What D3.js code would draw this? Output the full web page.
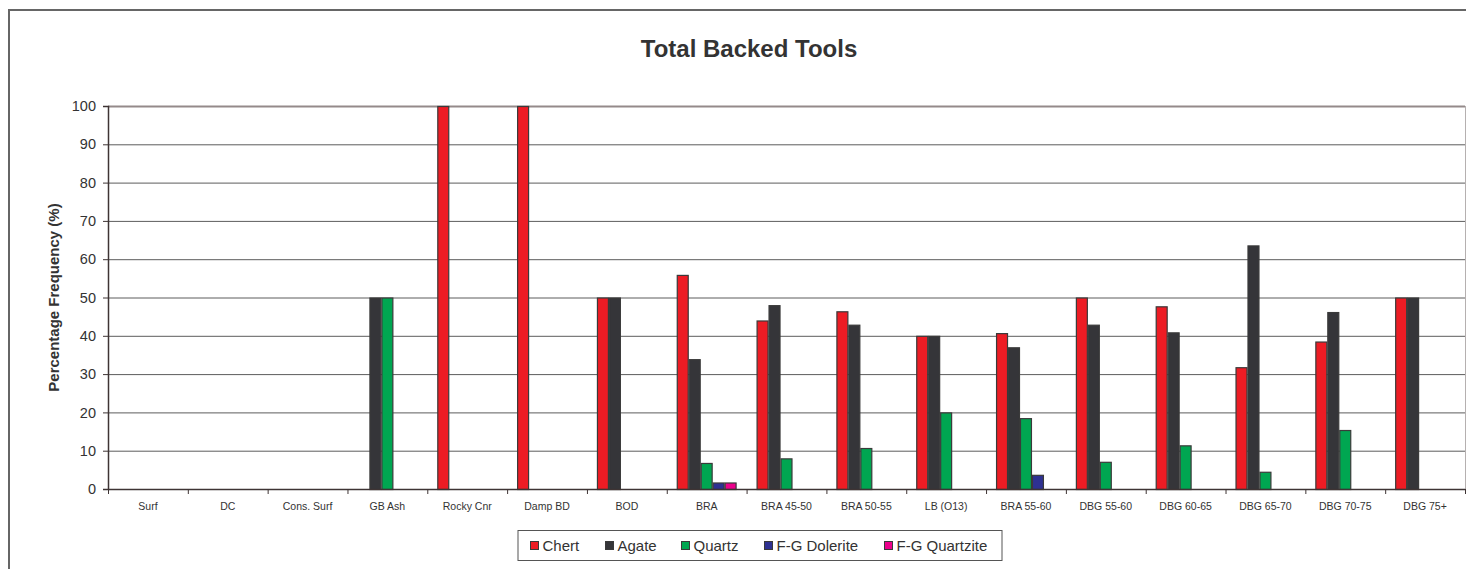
<!DOCTYPE html>
<html>
<head>
<meta charset="utf-8">
<script src="https://cdn.jsdelivr.net/npm/d3@7"></script>
<style>
  html, body { margin: 0; padding: 0; background: #fff; }
  svg { display: block; font-family: "Liberation Sans", Arial, Helvetica, sans-serif; }
</style>
</head>
<body>
<svg id="chart" width="1466" height="569"></svg>
<script>
const categories = ["Surf","DC","Cons. Surf","GB Ash","Rocky Cnr","Damp BD","BOD","BRA","BRA 45-50","BRA 50-55","LB (O13)","BRA 55-60","DBG 55-60","DBG 60-65","DBG 65-70","DBG 70-75","DBG 75+"];
const seriesNames = ["Chert","Agate","Quartz","F-G Dolerite","F-G Quartzite"];
const chert     = [0,0,0,0,100,100,50,55.9,44.0,46.4,40,40.7,50.0,47.7,31.8,38.5,50];
const agate     = [0,0,0,50,0,0,50,33.9,48.0,42.9,40,37.0,42.9,40.9,63.6,46.2,50];
const quartz    = [0,0,0,50,0,0,0,6.8,8.0,10.7,20,18.5,7.1,11.4,4.5,15.4,0];
const dolerite  = [0,0,0,0,0,0,0,1.7,0,0,0,3.7,0,0,0,0,0];
const quartzite = [0,0,0,0,0,0,0,1.7,0,0,0,0,0,0,0,0,0];
const yTicks = [0,10,20,30,40,50,60,70,80,90,100];
const colors = ["#ed1c24","#353539","#00a651","#2e3192","#ec008c"];

(function () {
const seriesValues = [chert, agate, quartz, dolerite, quartzite];
const svg = d3.select("#chart");

// outer frame
svg.append("rect").attr("x", 9).attr("y", 10).attr("width", 1480).attr("height", 600)
  .attr("fill", "none").attr("stroke", "#666").attr("stroke-width", 2);

const pL = 108, pR = 1465, pT = 106, pB = 489;

const x0 = d3.scaleBand().domain(categories).range([pL, pR]).paddingInner(0).paddingOuter(0);
const x1 = d3.scaleBand().domain(seriesNames).range([10, x0.bandwidth() - 10]).padding(0);
const y = d3.scaleLinear().domain([0, 100]).range([pB, pT]);

// title
svg.append("text").attr("x", 749).attr("y", 57).attr("text-anchor", "middle")
  .attr("font-size", 24).attr("font-weight", "bold").attr("fill", "#333")
  .text("Total Backed Tools");

// gridlines
svg.append("g").selectAll("line").data(yTicks.filter(d => d > 0)).join("line")
  .attr("x1", pL).attr("x2", pR)
  .attr("y1", d => y(d) + 0.5).attr("y2", d => y(d) + 0.5)
  .attr("stroke", d => d === 100 ? "#948a8a" : "#5c5c5c")
  .attr("stroke-width", d => d === 100 ? 2 : 1);

// right border of plot
svg.append("line").attr("x1", pR + 0.5).attr("x2", pR + 0.5).attr("y1", pT).attr("y2", pB)
  .attr("stroke", "#b5b0b0").attr("stroke-width", 1);

// bars
const groups = svg.append("g").selectAll("g").data(categories).join("g")
  .attr("transform", d => `translate(${x0(d)},0)`);
groups.selectAll("rect")
  .data((c, ci) => seriesNames.map((s, si) => ({ s, si, v: seriesValues[si][ci] })).filter(d => d.v > 0))
  .join("rect")
  .attr("x", d => x1(d.s) + 0.5)
  .attr("width", x1.bandwidth() - 1)
  .attr("y", d => y(d.v) + 0.5)
  .attr("height", d => y(0) - y(d.v))
  .attr("fill", d => colors[d.si])
  .attr("stroke", "#3a3a3a").attr("stroke-width", 1.2);

// y axis
const yAxis = d3.axisLeft(y).tickValues(yTicks).tickSize(5).tickPadding(7);
const gy = svg.append("g").attr("transform", `translate(${pL},0)`).call(yAxis);
gy.select(".domain").attr("stroke", "#3e3434").attr("stroke-width", 1.5);
gy.selectAll(".tick line").attr("stroke", "#3e3434");
gy.selectAll(".tick text").attr("font-size", 14.5).attr("fill", "#333")
  .attr("font-family", "'Liberation Sans', Arial, sans-serif");

// x axis
const xAxis = d3.axisBottom(x0).tickSize(0).tickPadding(14);
const gx = svg.append("g").attr("transform", `translate(0,${pB})`).call(xAxis);
gx.select(".domain").attr("stroke", "#3e3434").attr("stroke-width", 1.5);
gx.selectAll(".tick text").attr("font-size", 10.5).attr("fill", "#333")
  .attr("font-family", "'Liberation Sans', Arial, sans-serif");
// category boundary ticks
svg.append("g").selectAll("line").data(categories.concat(["__end"])).join("line")
  .attr("x1", (d, i) => pL + i * x0.step() + 0.5)
  .attr("x2", (d, i) => pL + i * x0.step() + 0.5)
  .attr("y1", pB).attr("y2", pB + 5)
  .attr("stroke", "#3e3434");

// y title
svg.append("text").attr("transform", "translate(59,297.5) rotate(-90)")
  .attr("text-anchor", "middle").attr("font-size", 15).attr("font-weight", "bold").attr("fill", "#333")
  .text("Percentage Frequency (%)");

// legend
const legend = svg.append("g");
legend.append("rect").attr("x", 518).attr("y", 530.5).attr("width", 484).attr("height", 30)
  .attr("fill", "#fff").attr("stroke", "#555").attr("stroke-width", 1);
const legendX = [530, 605, 681, 764, 884];
const li = legend.selectAll("g.item").data(seriesNames).join("g").attr("class", "item")
  .attr("transform", (d, i) => `translate(${legendX[i]},0)`);
li.append("rect").attr("x", 0.5).attr("y", 541.5).attr("width", 8).attr("height", 8)
  .attr("fill", (d, i) => colors[i]).attr("stroke", "#3a3a3a").attr("stroke-width", 1);
li.append("text").attr("x", 12.5).attr("y", 551).attr("font-size", 15).attr("fill", "#333")
  .text(d => d);
})();
</script>
</body>
</html>
